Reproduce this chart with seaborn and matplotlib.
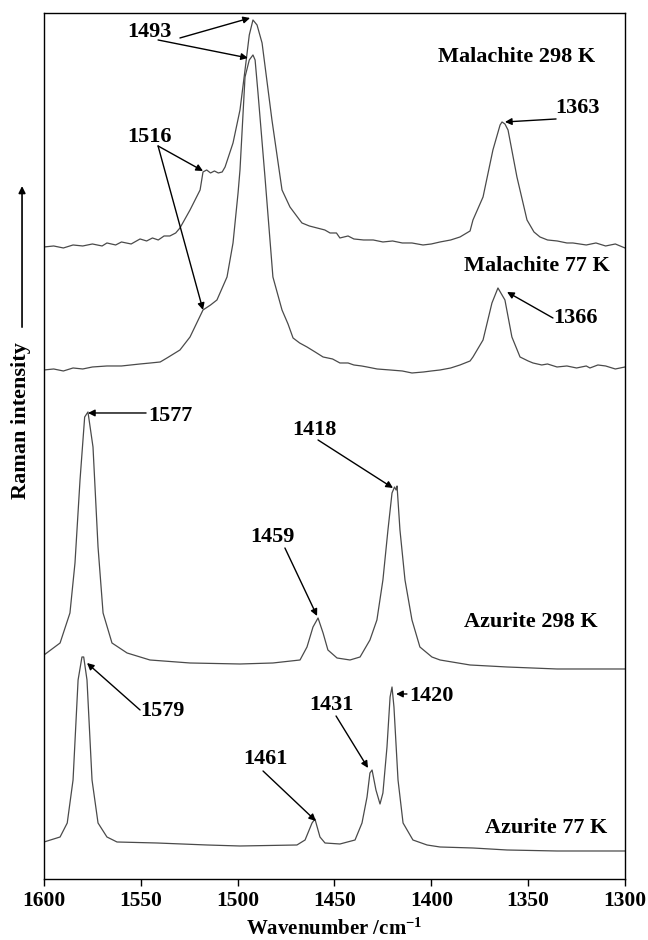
import numpy as np
import pandas as pd
import matplotlib
matplotlib.use("Agg")
import matplotlib.pyplot as plt
import seaborn as sns

# ---------------- data (wavenumber / cm-1, Raman intensity a.u.) ----------------
mal298_wn = [1600, 1595, 1590, 1585, 1580, 1575, 1570, 1567.5, 1563, 1560, 1555, 1550.4, 1547, 1544,
             1541, 1538, 1535, 1532, 1529.8, 1524.6, 1519.4, 1517.9, 1516, 1514, 1512, 1510, 1508,
             1506.5, 1502.4, 1498.8, 1496.2, 1494, 1492.1, 1490, 1487.4, 1482.3, 1477.1, 1473, 1468,
             1466.8, 1463, 1459, 1455, 1452.3, 1449, 1447.2, 1443, 1440, 1435, 1430, 1425, 1420, 1415,
             1410, 1404.3, 1400, 1395.5, 1390, 1385.2, 1380, 1378.5, 1373.3, 1368.2, 1364.5, 1363.5,
             1362, 1360.4, 1355.8, 1350.6, 1347, 1343.9, 1340, 1335, 1330, 1326.9, 1320, 1315, 1310,
             1305, 1300]
mal298_int = [633, 634, 632, 635, 634, 636, 634, 637, 635, 638, 636, 641, 639, 642,
              640, 644, 644, 647, 652, 670, 690, 708, 710, 707, 709, 707, 708,
              713, 737, 770, 810, 845, 860, 855, 837, 760, 690, 673, 660,
              657, 654, 652, 650, 647, 647, 642, 644, 641, 640, 640, 638, 639, 637,
              637, 635, 636, 638, 640, 643, 649, 660, 683, 730, 755, 758,
              756, 750, 703, 660, 648, 643, 640, 639, 637, 637, 635, 637, 634,
              636, 632]

mal77_wn = [1600, 1595, 1590, 1585, 1580, 1575, 1567.5, 1560, 1550.4, 1545, 1540, 1536.5, 1529.8,
            1524.6, 1517.9, 1514, 1510.7, 1505.5, 1502.4, 1499.8, 1498.8, 1496.2, 1494, 1492.1, 1491,
            1489.5, 1485.9, 1481.8, 1477.1, 1474, 1471.4, 1468, 1464.2, 1460, 1455.9, 1451, 1447.2,
            1443, 1440, 1436, 1433.2, 1428, 1421.3, 1415, 1410, 1404, 1400, 1395.5, 1390, 1385.2,
            1380, 1378.5, 1373.3, 1368.7, 1365.6, 1362, 1358.4, 1354.2, 1350, 1347.5, 1343, 1340,
            1335.1, 1330, 1325, 1320, 1318.1, 1314, 1310, 1305, 1300]
mal77_int = [510, 511, 509, 512, 511, 513, 514, 514, 516, 517, 518, 522, 530,
             543, 570, 575, 580, 603, 637, 687, 710, 803, 820, 825, 820,
             787, 703, 603, 570, 556, 542, 537, 533, 528, 523, 521, 517,
             517, 515, 514, 513, 511, 510, 509, 507, 508, 509, 510, 512, 515,
             519, 523, 540, 577, 592, 580, 543, 523, 519, 517, 515, 516,
             513, 514, 512, 514, 512, 515, 514, 511, 513]

az298_wn = [1600, 1591.7, 1586.6, 1584, 1581.4, 1579, 1577.3, 1574.7, 1572.1, 1569.5, 1564.9, 1557.1,
            1545.3, 1524.6, 1498.8, 1481.8, 1467.8, 1464.2, 1461.1, 1458.5, 1455.9, 1453.4, 1448.7,
            1442, 1436.8, 1431.7, 1428.1, 1425, 1422.4, 1420.3, 1419, 1418.2, 1417.7, 1416.2, 1413.6,
            1410, 1405.9, 1399.7, 1395.5, 1380, 1360.9, 1335.1, 1300]
az298_int = [225, 237, 267, 317, 400, 463, 468, 433, 333, 267, 237, 227,
             220, 217, 216, 217, 220, 233, 253, 262, 247, 230, 222,
             220, 223, 240, 260, 300, 350, 387, 393, 390, 394, 350, 300,
             260, 233, 223, 220, 215, 213, 211, 211]

az77_wn = [1600, 1591.7, 1588, 1585, 1582.4, 1580.4, 1579.5, 1577.8, 1575.2, 1572.1, 1567.5, 1562.3,
           1541.7, 1515.8, 1498.8, 1469.4, 1465.2, 1461.6, 1460.1, 1457.5, 1454.9, 1447.2, 1439.4,
           1435.8, 1433.2, 1431.7, 1430.6, 1428.6, 1426.5, 1425, 1422.9, 1421.3, 1420.3, 1419.3,
           1417.2, 1414.6, 1409.5, 1402.2, 1395.5, 1378.5, 1360.9, 1335.1, 1300]
az77_int = [38, 43, 57, 100, 200, 223, 223, 200, 100, 57, 43, 38,
            37, 35, 34, 35, 40, 57, 61, 43, 37, 36, 40,
            57, 83, 107, 110, 90, 76, 87, 133, 183, 193, 173,
            100, 57, 40, 35, 33, 32, 30, 29, 29]

series_names = ["Malachite 298 K", "Malachite 77 K", "Azurite 298 K", "Azurite 77 K"]

# annotations: label, text position, arrow tails and heads (wavenumber, intensity)
peak_labels = ["1493", "1516", "1363", "1366", "1577", "1418", "1459", "1579", "1431", "1420", "1461"]
peak_text_pos = [(1545.3, 848), (1545.3, 743), (1324.3, 772), (1325.8, 562), (1534.9, 464),
                 (1460.6, 450), (1481.8, 343), (1539.1, 169), (1451.8, 175), (1400.2, 184),
                 (1485.9, 121)]
arrow_tails = [(1529.8, 842), (1541.1, 840), (1541.1, 734), (1541.1, 734), (1335.6, 761),
               (1337.2, 562), (1547.3, 467), (1458.5, 440), (1475.6, 332), (1550.4, 170),
               (1449.2, 164), (1412.6, 186), (1486.9, 109)]
arrow_heads = [(1493.6, 862), (1494.7, 822), (1517.9, 709), (1517.9, 570), (1362.0, 758),
               (1360.9, 588), (1577.3, 467), (1419.8, 392), (1459.0, 264), (1577.8, 217),
               (1432.7, 112), (1418.2, 186), (1459.6, 59)]
name_pos = [(1355.8, 823), (1345.4, 614), (1348.5, 258), (1340.8, 52)]

# ---------------- build long table ----------------
frames = []
for name, wn, inten in zip(series_names,
                           [mal298_wn, mal77_wn, az298_wn, az77_wn],
                           [mal298_int, mal77_int, az298_int, az77_int]):
    frames.append(pd.DataFrame({"wn": wn, "I": inten, "sample": name}))
df = pd.concat(frames, ignore_index=True)

# ---------------- plot ----------------
sns.set_style("white")
plt.rcParams["font.family"] = ["Liberation Serif", "DejaVu Serif"]
plt.rcParams["font.weight"] = "bold"
plt.rcParams["text.color"] = "black"
plt.rcParams["axes.labelcolor"] = "black"
plt.rcParams["xtick.color"] = "black"
plt.rcParams["mathtext.fontset"] = "custom"
plt.rcParams["mathtext.rm"] = "Liberation Serif:bold"
plt.rcParams["mathtext.bf"] = "Liberation Serif:bold"
plt.rcParams["mathtext.it"] = "Liberation Serif:bold:italic"

fig = plt.figure(figsize=(6.48, 9.40), dpi=100)
ax = fig.add_axes([0.0679, 0.0649, 0.8966, 0.9213])

sns.lineplot(data=df, x="wn", y="I", hue="sample", units="sample", estimator=None,
             palette=["#4a4a4a"] * 4, linewidth=0.9, legend=False, sort=True, ax=ax)

ax.set_xlim(1600, 1300)
ax.set_ylim(1, 867)
ax.set_xticks([1600, 1550, 1500, 1450, 1400, 1350, 1300])
ax.set_yticks([])
ax.tick_params(axis="x", direction="out", length=5, width=1, labelsize=15.5, pad=4,
               bottom=True, colors="black")
for lab in ax.get_xticklabels():
    lab.set_fontweight("bold")
for sp in ax.spines.values():
    sp.set_color("black")
    sp.set_linewidth(1.0)

ax.set_xlabel("Wavenumber /cm$^{\\mathbf{-1}}$", fontsize=15, fontweight="bold", labelpad=5,
              color="black")
ax.set_ylabel("")

arrow_kw = dict(arrowstyle="-|>", color="black", lw=1.0, mutation_scale=10,
                shrinkA=0, shrinkB=0)
for lab, pos in zip(peak_labels, peak_text_pos):
    ax.text(pos[0], pos[1], lab, ha="center", va="center", fontsize=16, fontweight="bold",
            color="black")
for tail, head in zip(arrow_tails, arrow_heads):
    ax.annotate("", xy=head, xytext=tail, arrowprops=arrow_kw)
for name, pos in zip(series_names, name_pos):
    ax.text(pos[0], pos[1], name, ha="center", va="center", fontsize=16, fontweight="bold",
            color="black")

# y label with upward arrow
fig.text(0.033, 0.553, "Raman intensity", rotation=90, ha="center", va="center",
         fontsize=16, fontweight="bold", color="black")
fig.add_artist(matplotlib.patches.FancyArrowPatch((0.034, 0.649), (0.034, 0.805),
                                                  transform=fig.transFigure,
                                                  arrowstyle="-|>", mutation_scale=10,
                                                  color="black", lw=1.2))

fig.savefig("out.png", dpi=100)
